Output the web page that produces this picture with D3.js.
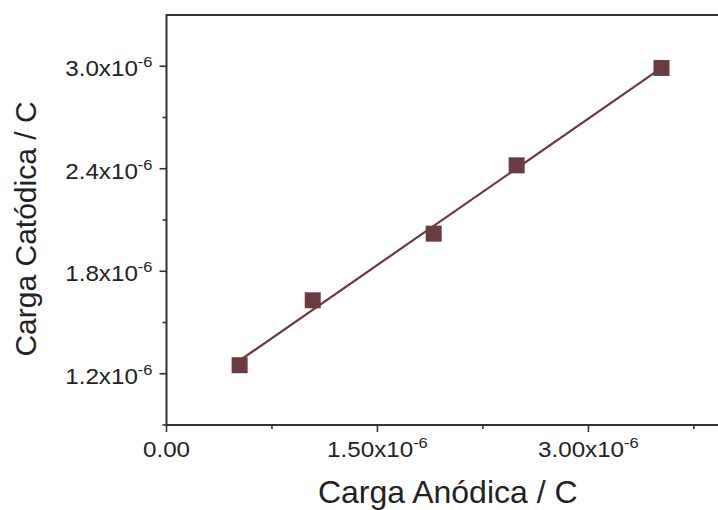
<!DOCTYPE html>
<html>
<head>
<meta charset="utf-8">
<script src="https://cdn.jsdelivr.net/npm/d3@7"></script>
<style>
  html, body { margin: 0; padding: 0; background: #fff; }
  svg { display: block; }
  text { font-family: "Liberation Sans", Arial, sans-serif; fill: #222; }
</style>
</head>
<body>
<svg id="chart" width="718" height="510"></svg>
<script>
// Anodic vs cathodic charge (C)
const anodic   = [0.52e-6, 1.04e-6, 1.90e-6, 2.49e-6, 3.52e-6];
const cathodic = [1.25e-6, 1.63e-6, 2.02e-6, 2.42e-6, 2.99e-6];

const xMajorTicks = [0, 1.5e-6, 3.0e-6];
const xTickLabels = [["0.00", ""], ["1.50x10", "-6"], ["3.00x10", "-6"]];
const xMinorTicks = [0.75e-6, 2.25e-6, 3.75e-6];
const yMajorTicks = [1.2e-6, 1.8e-6, 2.4e-6, 3.0e-6];
const yTickLabels = [["1.2x10", "-6"], ["1.8x10", "-6"], ["2.4x10", "-6"], ["3.0x10", "-6"]];
const yMinorTicks = [0.9e-6, 1.5e-6, 2.1e-6, 2.7e-6];

const xTitle = "Carga Anódica / C";
const yTitle = "Carga Catódica / C";

const W = 718, H = 510;
const margin = { left: 166.5, top: 15, bottom: 85 };
const plotRight = 729;

const x = d3.scaleLinear().domain([0, 4.0e-6]).range([margin.left, plotRight]);
const y = d3.scaleLinear().domain([0.9e-6, 3.3e-6]).range([H - margin.bottom, margin.top]);

const svg = d3.select("#chart");
const axisColor = "#333";
const markColor = "#6a3b41";
const labelSize = 22, supSize = 15, stretch = 1.1;

// frame
svg.append("rect")
  .attr("x", x.range()[0]).attr("y", y.range()[1])
  .attr("width", x.range()[1] - x.range()[0])
  .attr("height", y.range()[0] - y.range()[1])
  .attr("fill", "none").attr("stroke", axisColor).attr("stroke-width", 2);

// x axis ticks
const xAxis = svg.append("g").attr("transform", `translate(0,${y.range()[0]})`);
xAxis.selectAll("line.major").data(xMajorTicks).join("line")
  .attr("class", "major")
  .attr("x1", d => x(d)).attr("x2", d => x(d))
  .attr("y1", 0).attr("y2", 7)
  .attr("stroke", axisColor).attr("stroke-width", 1.6);
xAxis.selectAll("line.minor").data(xMinorTicks).join("line")
  .attr("class", "minor")
  .attr("x1", d => x(d)).attr("x2", d => x(d))
  .attr("y1", 0).attr("y2", 4)
  .attr("stroke", axisColor).attr("stroke-width", 1.6);
const xl = xAxis.selectAll("text.tl").data(xMajorTicks).join("text")
  .attr("class", "tl")
  .attr("transform", d => `translate(${x(d)},32) scale(${stretch},1)`)
  .attr("text-anchor", "middle")
  .attr("font-size", labelSize);
xl.append("tspan").text((d, i) => xTickLabels[i][0]);
xl.append("tspan").attr("dy", -9).attr("font-size", supSize).text((d, i) => xTickLabels[i][1]);

// y axis ticks
const yAxis = svg.append("g").attr("transform", `translate(${x.range()[0]},0)`);
yAxis.selectAll("line.major").data(yMajorTicks).join("line")
  .attr("class", "major")
  .attr("x1", 0).attr("x2", -7)
  .attr("y1", d => y(d)).attr("y2", d => y(d))
  .attr("stroke", axisColor).attr("stroke-width", 1.6);
yAxis.selectAll("line.minor").data(yMinorTicks).join("line")
  .attr("class", "minor")
  .attr("x1", 0).attr("x2", -4)
  .attr("y1", d => y(d)).attr("y2", d => y(d))
  .attr("stroke", axisColor).attr("stroke-width", 1.6);
const yl = yAxis.selectAll("text.tl").data(yMajorTicks).join("text")
  .attr("class", "tl")
  .attr("transform", d => `translate(-14,${y(d) + 10}) scale(${stretch},1)`)
  .attr("text-anchor", "end")
  .attr("font-size", labelSize);
yl.append("tspan").text((d, i) => yTickLabels[i][0]);
yl.append("tspan").attr("dy", -9).attr("font-size", supSize).text((d, i) => yTickLabels[i][1]);

// axis titles
svg.append("text")
  .attr("x", (x.range()[0] + x.range()[1]) / 2).attr("y", 503)
  .attr("text-anchor", "middle").attr("font-size", 32)
  .text(xTitle);
svg.append("text")
  .attr("transform", `translate(36,229) rotate(-90)`)
  .attr("text-anchor", "middle").attr("font-size", 30)
  .text(yTitle);

// least-squares fit line through the points
const pts = anodic.map((a, i) => [a, cathodic[i]]);
const mx = d3.mean(anodic), my = d3.mean(cathodic);
const slope = d3.sum(pts, p => (p[0] - mx) * (p[1] - my)) / d3.sum(pts, p => (p[0] - mx) ** 2);
const icpt = my - slope * mx;
const xs = d3.extent(anodic);
svg.append("line")
  .attr("x1", x(xs[0])).attr("y1", y(icpt + slope * xs[0]))
  .attr("x2", x(xs[1])).attr("y2", y(icpt + slope * xs[1]))
  .attr("stroke", markColor).attr("stroke-width", 2.2);

// square markers
const s = 16;
svg.selectAll("rect.pt").data(pts).join("rect")
  .attr("class", "pt")
  .attr("x", d => x(d[0]) - s / 2).attr("y", d => y(d[1]) - s / 2)
  .attr("width", s).attr("height", s)
  .attr("fill", markColor);
</script>
</body>
</html>
